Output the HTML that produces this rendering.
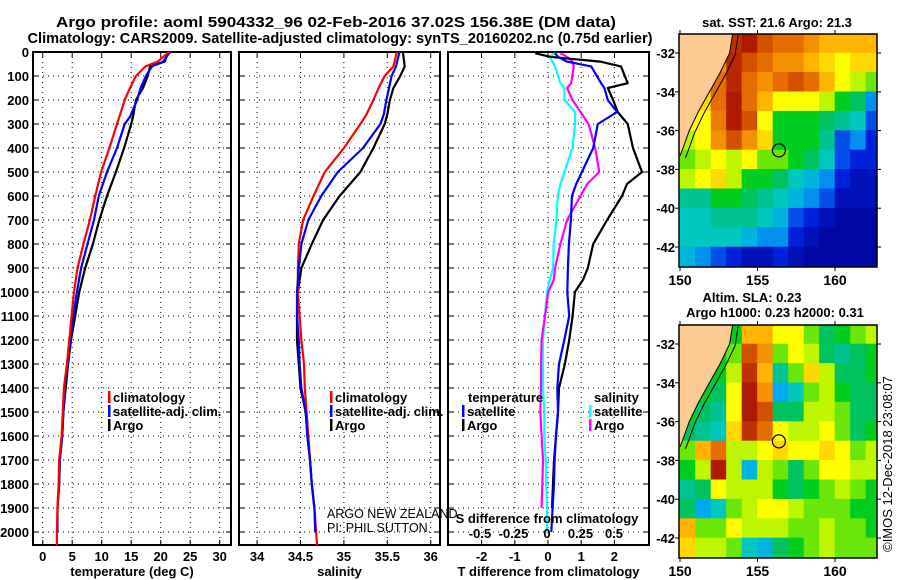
<!DOCTYPE html>
<html><head><meta charset="utf-8"><style>
html,body{margin:0;padding:0;background:#fff;}
svg{display:block;font-family:"Liberation Sans",Arial,sans-serif;}
.b{font-weight:bold;font-size:13px;}
.t{font-weight:bold;font-size:15px;}
</style></head><body>
<svg id="fig" width="900" height="580" viewBox="0 0 900 580" xmlns="http://www.w3.org/2000/svg">
<text class="t" x="336" y="27" text-anchor="middle" textLength="560" lengthAdjust="spacingAndGlyphs">Argo profile: aoml 5904332_96 02-Feb-2016 37.02S 156.38E (DM data)</text>
<text class="t" x="340" y="43" text-anchor="middle" textLength="625" lengthAdjust="spacingAndGlyphs">Climatology: CARS2009. Satellite-adjusted climatology: synTS_20160202.nc (0.75d earlier)</text>
<g id="g"></g>
</svg>
<script>
// ---- depth profile data ----
const tDepth=[0,40,60,100,150,200,270,300,400,500,600,700,800,900,1000,1100,1200,1300,1400,1500,1600,1700,1800,1900,2000];
const tArgo=[21.2,20.7,18.2,17.8,17.0,15.8,15.3,15.0,13.8,12.4,10.9,9.6,8.5,7.2,6.2,5.5,4.8,4.3,3.9,3.5,3.3,2.9,2.8,2.5,2.5];
const tClim=[21.4,19.5,17.4,15.8,14.8,13.9,13.0,12.6,11.3,9.9,8.9,8.0,6.9,5.9,5.3,4.9,4.5,4.1,3.6,3.4,3.2,2.8,2.7,2.5,2.4];
const tSat=[21.6,20.4,18.5,17.5,16.6,16.0,14.8,13.9,12.6,10.9,9.5,8.7,7.6,6.5,5.8,5.2,4.7,4.2,3.7,3.5,3.3,2.9,2.8,2.5,2.5];
const sDepth=[0,60,100,150,200,260,300,400,500,600,700,800,900,1000,1100,1200,1300,1400,1500,1600,1700,1800,1900,2000];
const sArgo=[35.68,35.70,35.65,35.57,35.53,35.50,35.47,35.34,35.19,34.95,34.76,34.63,34.51,34.47,34.46,34.46,34.48,34.50,34.56,34.58,34.61,34.63,34.66,34.67];
const sClim=[35.61,35.57,35.47,35.40,35.34,35.26,35.19,35.00,34.78,34.65,34.53,34.48,34.47,34.47,34.49,34.51,34.54,34.55,34.57,34.59,34.61,34.63,34.66,34.68];
const sSat=[35.64,35.60,35.55,35.52,35.49,35.46,35.42,35.22,34.93,34.74,34.59,34.51,34.48,34.46,34.46,34.48,34.49,34.51,34.56,34.58,34.61,34.63,34.66,34.67];
const dDepth=[5,20,40,60,130,150,200,250,300,400,500,550,600,700,800,900,950,1000,1100,1200,1300,1400,1500,1600,1700,1800,1900];
const dtArgo=[-0.39,0.06,1.57,2.2,2.4,1.8,1.96,2.1,2.4,2.56,2.83,2.38,2.23,1.78,1.36,1.2,1.05,0.81,0.74,0.64,0.51,0.33,0.3,0.24,0.18,0.15,0.12];
const dtSat=[0.21,0.3,0.57,1.3,1.6,1.7,1.8,2.08,1.5,1.36,1.02,0.85,0.72,0.69,0.63,0.6,0.59,0.58,0.64,0.49,0.33,0.28,0.3,0.24,0.2,0.18,0.14];
const dsSat=[0.06,0.02,0.04,0.06,0.1,0.13,0.13,0.21,0.21,0.19,0.13,0.1,0.08,0.07,0.05,0.045,0.02,0,-0.015,-0.03,-0.03,-0.03,-0.02,-0.02,-0.01,-0.005,0];
const dsArgo=[0.1,0.15,0.19,0.2,0.18,0.15,0.19,0.25,0.31,0.36,0.39,0.3,0.25,0.15,0.1,0.06,0.05,0.01,-0.015,-0.04,-0.045,-0.045,-0.05,-0.04,-0.03,-0.035,-0.04];
const dsDepthExtra=[2000];
const tTicks=[0,5,10,15,20,25,30];
const sTicks=[34,34.5,35,35.5,36];
const sTickLabels=["34","34.5","35","35.5","36"];
const dtTicks=[-2,-1,0,1,2];
const dsTicks=[-0.5,-0.25,0,0.25,0.5];
const depthTicks=[0,100,200,300,400,500,600,700,800,900,1000,1100,1200,1300,1400,1500,1600,1700,1800,1900,2000];
// ---- map data (0..1 colour index per 1-degree cell, rows from -31 southwards, cols from 150E) ----
const sstGrid=[
[.7,.7,.7,.9,.95,.85,.8,.8,.75,.7,.7,.7,.7],
[.7,.7,.75,.92,.85,.8,.75,.75,.7,.65,.6,.65,.65],
[.7,.7,.8,.92,.8,.75,.8,.85,.8,.7,.6,.55,.5],
[.7,.65,.8,.95,.8,.7,.6,.6,.6,.55,.45,.4,.2],
[.6,.6,.78,.95,.85,.6,.45,.45,.45,.4,.35,.3,.15],
[.55,.6,.75,.85,.75,.65,.45,.45,.45,.35,.15,.2,.1],
[.5,.55,.6,.55,.6,.5,.5,.45,.4,.3,.15,.1,.1],
[.55,.6,.65,.55,.45,.45,.4,.3,.25,.2,.1,.05,.05],
[.35,.35,.45,.45,.4,.35,.3,.25,.2,.15,.05,.05,.05],
[.3,.3,.35,.35,.35,.3,.25,.15,.1,.05,.02,.02,.02],
[.3,.3,.3,.3,.25,.2,.2,.1,.05,.02,.02,.02,.02],
[.25,.2,.15,.1,.05,.05,.1,.05,.02,.02,.02,.02,.02]];
const slaGrid=[
[.45,.45,.45,.45,.7,.7,.6,.6,.5,.4,.45,.5,.55],
[.45,.45,.45,.5,.85,.75,.5,.6,.55,.4,.35,.4,.45],
[.45,.45,.45,.55,.9,.7,.35,.5,.65,.55,.4,.4,.45],
[.45,.45,.4,.6,.95,.75,.22,.3,.5,.55,.45,.4,.4],
[.45,.4,.35,.6,.95,.85,.4,.4,.55,.55,.5,.4,.4],
[.4,.35,.3,.65,.9,.8,.6,.55,.55,.6,.5,.4,.45],
[.5,.7,.8,.55,.55,.6,.65,.6,.6,.65,.6,.5,.55],
[.45,.55,.95,.55,.25,.55,.5,.4,.5,.6,.6,.55,.55],
[.35,.4,.6,.55,.55,.55,.45,.4,.45,.5,.55,.5,.45],
[.4,.22,.3,.5,.55,.6,.6,.55,.5,.5,.5,.45,.45],
[.7,.5,.5,.6,.55,.55,.55,.5,.5,.55,.5,.5,.45],
[.65,.55,.55,.5,.3,.25,.4,.45,.5,.55,.5,.5,.5]];
const coastLon=[153.4,153.2,152.6,151.9,151.2,150.6,150.15,150.0];
const coastLat=[-31,-32,-33,-34,-35,-36,-37,-37.3];
const floatLon=156.38, floatLat=-37.02;
const mapLatTicks=[-32,-34,-36,-38,-40,-42];
const mapLonTicks=[150,155,160];

const NS="http://www.w3.org/2000/svg";
const G=document.getElementById('g');
function mk(tag,attrs,parent){const e=document.createElementNS(NS,tag);for(const k in attrs)e.setAttribute(k,attrs[k]);(parent||G).appendChild(e);return e;}
const yD=d=>52+0.24*d;
const Y0=52,Y1=545;
const xT=v=>42.7+5.9*v, xS=v=>300.5+86.8*(v-34.5), xDT=v=>548+33.2*v, xDS=v=>547+134*v;

function panel(name,x0,x1,xticks,xf,labels,title,showDepth){
  const g=mk('g',{});
  
  
  depthTicks.forEach(d=>{
    const l=mk('line',{x1:x0,x2:x1,y1:yD(d),y2:yD(d),stroke:'#000','stroke-width':1,'stroke-dasharray':'1,4'},g);
    
    
    mk('line',{x1:x0,x2:x0+5,y1:yD(d),y2:yD(d),stroke:'#000'},g);
    mk('line',{x1:x1-5,x2:x1,y1:yD(d),y2:yD(d),stroke:'#000'},g);
    if(showDepth){const t=mk('text',{x:x0-4,y:yD(d)+5,'text-anchor':'end',class:'b'},g);t.textContent=d;
      
      }
  });
  xticks.forEach((v,i)=>{
    const l=mk('line',{x1:xf(v),x2:xf(v),y1:Y0,y2:Y1,stroke:'#000','stroke-width':1,'stroke-dasharray':'1,4'},g);
    
    
    mk('line',{x1:xf(v),x2:xf(v),y1:Y1,y2:Y1-5,stroke:'#000'},g);
    mk('line',{x1:xf(v),x2:xf(v),y1:Y0,y2:Y0+5,stroke:'#000'},g);
    const t=mk('text',{x:xf(v),y:561,'text-anchor':'middle',class:'b'},g);t.textContent=labels[i];
    
    
  });
  const r=mk('rect',{x:x0,y:Y0,width:x1-x0,height:Y1-Y0,fill:'none',stroke:'#000','stroke-width':2},g);
  
  
  const t=mk('text',{x:(x0+x1)/2,y:576,'text-anchor':'middle',class:'b'},g);t.textContent=title;
  
  
}
function line(name,depths,vals,xf,col,w){
  const pts=vals.map((v,i)=>xf(v).toFixed(1)+','+yD(depths[i]).toFixed(1)).join(' ');
  const p=mk('polyline',{points:pts,fill:'none',stroke:col,'stroke-width':w||2.2,'stroke-linejoin':'round'});
  
  
}
panel('temperature-panel',33,231,tTicks,xT,tTicks.map(String),'temperature (deg C)',true);
panel('salinity-panel',239,440,sTicks,xS,sTickLabels,'salinity',false);
panel('difference-panel',448,649,dtTicks,xDT,dtTicks.map(String),'T difference from climatology',false);

line('temp-argo-line',tDepth.slice(0,24),tArgo.slice(0,24),xT,'#000');
line('temp-satellite-line',tDepth,tSat,xT,'#0000ff');
line('temp-climatology-line',tDepth.concat([2055]),tClim.concat([2.4]),xT,'#ff0000');
line('sal-argo-line',sDepth.slice(0,23),sArgo.slice(0,23),xS,'#000');
line('sal-climatology-line',sDepth.concat([2055]),sClim.concat([34.69]),xS,'#ff0000');
line('sal-satellite-line',sDepth,sSat,xS,'#0000ff');
line('dsal-satellite-line',dDepth.concat(dsDepthExtra),dsSat.concat([0]),xDS,'#00ffff');
line('dsal-argo-line',dDepth,dsArgo,xDS,'#ff00ff');
line('dtemp-argo-line',dDepth,dtArgo,xDT,'#000');
line('dtemp-satellite-line',dDepth.concat(dsDepthExtra),dtSat.concat([0.1]),xDT,'#0000ff');

dsTicks.forEach(v=>{const t=mk('text',{x:xDS(v),y:538,'text-anchor':'middle',class:'b'});t.textContent=String(v);
  
  });
{const t=mk('text',{x:547,y:523,'text-anchor':'middle',class:'b'});t.textContent='S difference from climatology';
 
 }

function legend(x,y,col,label,name){
  mk('rect',{x:x,y:y-11,width:2.5,height:12,fill:col});
  const t=mk('text',{x:x+5,y:y,class:'b'});t.textContent=label;
  
  
}
legend(108,402,'#ff0000','climatology','legend-climatology');
legend(108,416,'#0000ff','satellite-adj. clim.','legend-satellite-adj');
legend(108,430,'#000','Argo','legend-argo');
legend(330,402,'#ff0000','climatology','legend-sal-climatology');
legend(330,416,'#0000ff','satellite-adj. clim.','legend-sal-satellite-adj');
legend(330,430,'#000','Argo','legend-sal-argo');
{const t=mk('text',{x:468,y:402,class:'b'});t.textContent='temperature';}
{const t=mk('text',{x:594,y:402,class:'b'});t.textContent='salinity';}
legend(462,416,'#0000ff','satellite','legend-dt-satellite');
legend(462,430,'#000','Argo','legend-dt-argo');
legend(589,416,'#00ffff','satellite','legend-ds-satellite');
legend(589,430,'#ff00ff','Argo','legend-ds-argo');
{const t=mk('text',{x:327,y:518,'font-size':'12.5px'});t.textContent='ARGO NEW ZEALAND';}
{const t=mk('text',{x:327,y:532,'font-size':'12.5px'});t.textContent='PI: PHIL SUTTON';}

// ---- maps ----
const stops=[[0,[0,0,150]],[.12,[0,40,230]],[.22,[0,170,240]],[.3,[0,200,190]],[.38,[0,190,120]],[.45,[0,205,30]],[.52,[150,240,0]],[.6,[255,255,0]],[.7,[255,180,0]],[.8,[230,110,0]],[.9,[190,50,0]],[1,[160,0,0]]];
function cmap(v){for(let i=1;i<stops.length;i++){if(v<=stops[i][0]){const a=stops[i-1],b=stops[i],f=(v-a[0])/(b[0]-a[0]);const c=a[1].map((x,k)=>Math.round(x+(b[1][k]-x)*f));return 'rgb('+c.join(',')+')';}}return 'rgb(160,0,0)';}
function map(name,grid,top){
  const X0=679,X1=877,xL=v=>680+15.5*(v-150),yL=v=>top+19+(-32-v)*19.4,Y1m=top+233;
  const g=mk('g',{});
  
  
  const cid=name+'-clip';
  const cp=mk('clipPath',{id:cid},g);mk('rect',{x:X0,y:top,width:X1-X0,height:Y1m-top},cp);
  const cells=mk('g',{'clip-path':'url(#'+cid+')'},g);
  grid.forEach((row,r)=>row.forEach((v,c)=>{
    const e=mk('rect',{x:xL(150+c)-0.3,y:yL(-31-r)-0.3,width:15.5+0.6,height:19.4+0.6,fill:cmap(v)},cells);
    
    
  }));
  let land='';coastLon.forEach((lo,i)=>{land+=xL(lo)+','+yL(coastLat[i])+' ';});
  const lp=mk('polygon',{points:land+xL(149)+','+yL(coastLat[coastLat.length-1])+' '+xL(149)+','+yL(-30),fill:'#fccb94'},cells);
  
  
  mk('polyline',{points:land,fill:'none',stroke:'#000','stroke-width':1},cells);
  let iso='';coastLon.forEach((lo,i)=>{iso+=xL(lo+0.35)+','+yL(coastLat[i]-0.1)+' ';});
  mk('polyline',{points:iso,fill:'none',stroke:'#000','stroke-width':1},cells);
  const fc=mk('circle',{cx:xL(floatLon),cy:yL(floatLat),r:6.5,fill:'none',stroke:'#000','stroke-width':1.2},g);
  
  
  mk('rect',{x:X0,y:top,width:X1-X0,height:Y1m-top,fill:'none',stroke:'#000','stroke-width':1.5},g);
  mapLatTicks.forEach(v=>{mk('line',{x1:X0-4,x2:X0,y1:yL(v),y2:yL(v),stroke:'#000'},g);mk('line',{x1:X1,x2:X1+4,y1:yL(v),y2:yL(v),stroke:'#000'},g);
    const t=mk('text',{x:X0-4,y:yL(v)+5,'text-anchor':'end',class:'b'},g);t.textContent=String(v);
    
    });
  mapLonTicks.forEach(v=>{mk('line',{x1:xL(v),x2:xL(v),y1:top-4,y2:top,stroke:'#000'},g);mk('line',{x1:xL(v),x2:xL(v),y1:Y1m,y2:Y1m+4,stroke:'#000'},g);
    const t=mk('text',{x:xL(v),y:Y1m+18,'text-anchor':'middle','font-weight':'bold','font-size':'14px'},g);t.textContent=String(v);
    
    });
}
map('sst-map',sstGrid,34);
map('sla-map',slaGrid,325);
{const t=mk('text',{x:777,y:27,'text-anchor':'middle',class:'b'});t.textContent='sat. SST: 21.6 Argo: 21.3';}
{const t=mk('text',{x:752,y:302,'text-anchor':'middle',class:'b'});t.textContent='Altim. SLA: 0.23';}
{const t=mk('text',{x:775,y:317,'text-anchor':'middle',class:'b'});t.textContent='Argo h1000: 0.23 h2000: 0.31';}
{const t=mk('text',{x:0,y:0,'text-anchor':'middle','font-size':'13px',transform:'translate(892,464) rotate(-90)'});t.textContent='©IMOS 12-Dec-2018 23:08:07';}
</script>
</body></html>
